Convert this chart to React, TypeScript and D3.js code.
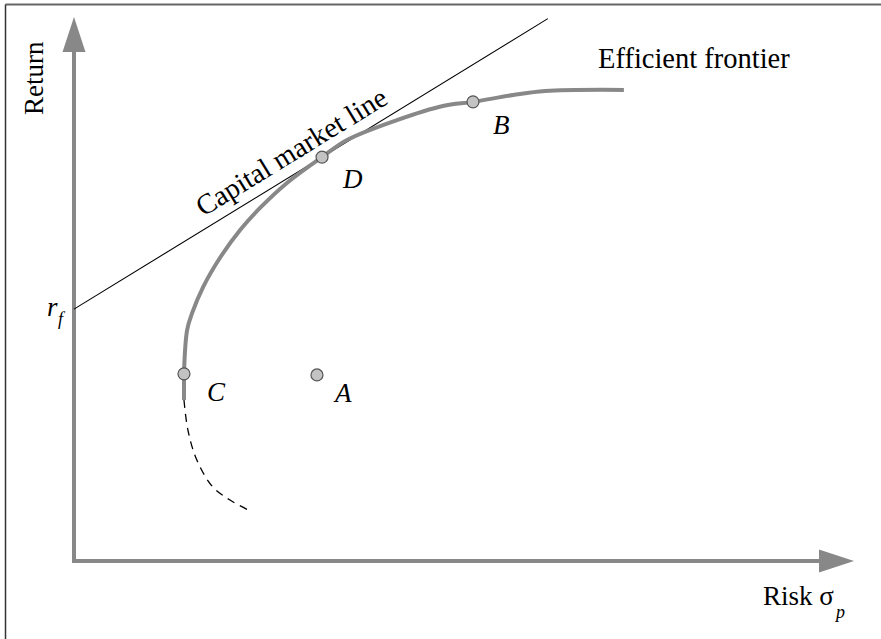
import React from "react";
import * as d3 from "d3";

// Data (abstract units: risk on x, return on y)
const frontierRisk = [2.82, 2.90, 3.03, 3.31, 3.74, 4.26, 4.77, 5.46, 6.36, 7.00, 8.28, 9.46, 10.23, 11.26, 12.08, 14.10];
const frontierReturn = [6.88, 8.49, 9.12, 10.07, 11.14, 12.17, 12.98, 13.90, 14.85, 15.48, 16.21, 16.73, 16.88, 17.13, 17.28, 17.32];
const lowerSolidRisk = [2.82, 2.82];
const lowerSolidReturn = [6.88, 5.92];
const lowerDashRisk = [2.82, 2.92, 3.15, 3.56, 4.0, 4.46];
const lowerDashReturn = [5.92, 4.82, 3.71, 2.72, 2.24, 1.88];
const riskFree = 9.26;
const cmlSlope = 0.879;
const cmlEndRisk = 12.15;
const pointNames = ["C", "A", "D", "B"];
const pointRisk = [2.82, 6.23, 6.36, 10.23];
const pointReturn = [6.88, 6.84, 14.85, 16.88];

const W = 881;
const H = 639;

export default function App() {
  const x = d3.scaleLinear().domain([0, 20]).range([74, 854]);
  const y = d3.scaleLinear().domain([0, 20]).range([561, 17]);
  const serif = "Liberation Serif, Times New Roman, Times, DejaVu Serif, serif";
  const ts = { fontFamily: serif };

  const line = d3
    .line<[number, number]>()
    .x((d) => x(d[0]))
    .y((d) => y(d[1]))
    .curve(d3.curveCatmullRom);
  const frontier = line(frontierRisk.map((r, i) => [r, frontierReturn[i]]));
  const lowerSolid = d3
    .line<[number, number]>()
    .x((d) => x(d[0]))
    .y((d) => y(d[1]))(lowerSolidRisk.map((r, i) => [r, lowerSolidReturn[i]]));
  const lowerDash = line(lowerDashRisk.map((r, i) => [r, lowerDashReturn[i]]));

  const x0 = x(0);
  const y0 = y(0);
  const xTip = x(20);
  const yTip = y(20);
  const ah = 35;
  const aw = 11.5;

  const cmlX1 = x(0), cmlY1 = y(riskFree);
  const cmlX2 = x(cmlEndRisk), cmlY2 = y(riskFree + cmlSlope * cmlEndRisk);
  const angle = (Math.atan2(cmlY2 - cmlY1, cmlX2 - cmlX1) * 180) / Math.PI;
  const labelRisk = 5.85;
  const lx = x(labelRisk);
  const ly = y(riskFree + cmlSlope * labelRisk);

  const labelOffsets: Record<string, [number, number]> = {
    C: [23, 27],
    A: [18, 27],
    D: [21, 31],
    B: [20, 32],
  };

  return (
    <svg
      width={W}
      height={H}
      style={{ position: "absolute", left: 0, top: 0, background: "#fff", fontFamily: serif }}
    >
      <rect x={0} y={0} width={W} height={H} fill="#fff" />
      {/* frame */}
      <line x1={5.5} y1={4.5} x2={W} y2={4.5} stroke="#666" strokeWidth={2} />
      <line x1={5.5} y1={4.5} x2={5.5} y2={H} stroke="#333" strokeWidth={1.5} />

      {/* axes */}
      <line x1={x0} y1={y0 + 2} x2={x0} y2={yTip + ah} stroke="#888" strokeWidth={4} />
      <polygon points={`${x0},${yTip} ${x0 - aw},${yTip + ah} ${x0 + aw},${yTip + ah}`} fill="#888" />
      <line x1={x0 - 2} y1={y0} x2={xTip - ah} y2={y0} stroke="#888" strokeWidth={4} />
      <polygon points={`${xTip},${y0} ${xTip - ah},${y0 - aw} ${xTip - ah},${y0 + aw}`} fill="#888" />

      {/* axis labels */}
      <text transform={`translate(43,115) rotate(-90)`} fontSize={27} fill="#000" style={ts}>
        Return
      </text>
      <text x={763} y={605} fontSize={27} fill="#000" style={ts}>
        Risk σ
      </text>
      <text x={836} y={618} fontSize={18} fontStyle="italic" fill="#000" style={ts}>
        p
      </text>
      <text x={47} y={316} fontSize={27} fontStyle="italic" fill="#000" style={ts}>
        r
      </text>
      <text x={58} y={325} fontSize={18} fontStyle="italic" fill="#000" style={ts}>
        f
      </text>

      {/* capital market line */}
      <line x1={cmlX1} y1={cmlY1} x2={cmlX2} y2={cmlY2} stroke="#000" strokeWidth={1.1} />
      <text
        transform={`translate(${lx},${ly}) rotate(${angle})`}
        textAnchor="middle"
        dy={-11}
        fontSize={28.5}
        fill="#000"
        style={ts}
      >
        Capital market line
      </text>

      {/* frontier */}
      <path d={frontier || ""} fill="none" stroke="#888" strokeWidth={4} strokeLinejoin="round" />
      <path d={lowerSolid || ""} fill="none" stroke="#888" strokeWidth={4} />
      <path d={lowerDash || ""} fill="none" stroke="#000" strokeWidth={1.3} strokeDasharray="8,6" />
      <text x={598} y={68} fontSize={28.5} fill="#000" style={ts}>
        Efficient frontier
      </text>

      {/* points */}
      {pointNames.map((n, i) => (
        <g key={n}>
          <circle cx={x(pointRisk[i])} cy={y(pointReturn[i])} r={6} fill="#c3c3c3" stroke="#555" strokeWidth={1.2} />
          <text
            x={x(pointRisk[i]) + labelOffsets[n][0]}
            y={y(pointReturn[i]) + labelOffsets[n][1]}
            fontSize={27}
            fontStyle="italic"
            fill="#000"
            style={ts}
          >
            {n}
          </text>
        </g>
      ))}
    </svg>
  );
}
